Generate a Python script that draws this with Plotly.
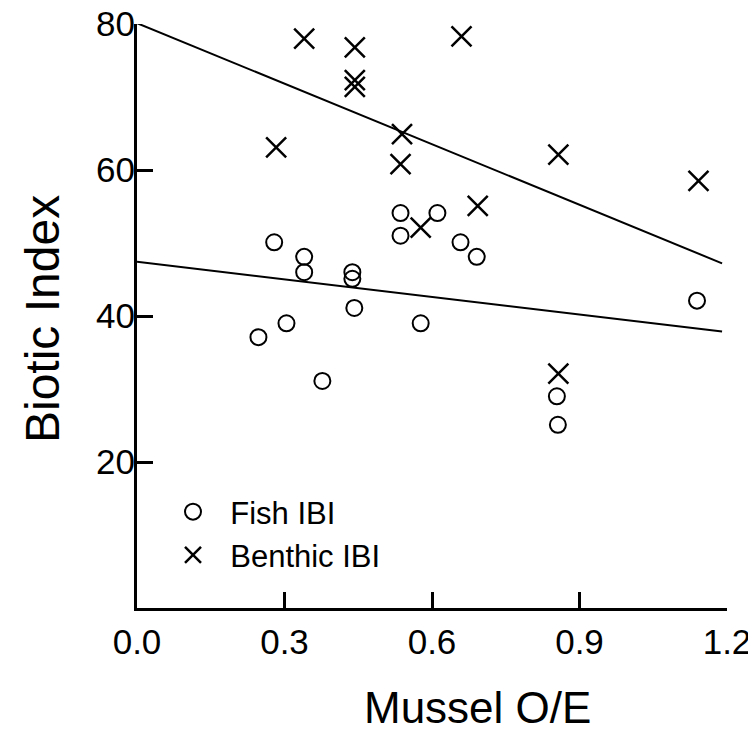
import numpy as np
import plotly.graph_objects as go

# Fish IBI (open circles)
fish_x = [0.247, 0.279, 0.304, 0.340, 0.340, 0.377, 0.438, 0.438, 0.442,
          0.536, 0.536, 0.577, 0.611, 0.658, 0.691, 0.854, 0.856, 1.139]
fish_y = [37.1, 50.1, 39.0, 48.1, 46.0, 31.1, 46.0, 45.1, 41.1,
          54.1, 51.0, 39.0, 54.1, 50.1, 48.1, 29.0, 25.1, 42.1]

# Benthic IBI (crosses)
benthic_x = [0.283, 0.340, 0.443, 0.443, 0.443, 0.536, 0.539, 0.577,
             0.660, 0.693, 0.857, 0.857, 1.142]
benthic_y = [63.1, 78.0, 76.8, 72.3, 71.4, 60.8, 64.9, 52.1,
             78.3, 55.1, 62.1, 32.1, 58.5]

fit_x = [0.0, 1.19]
x_ticks = [0.0, 0.3, 0.6, 0.9, 1.2]
y_ticks = [20, 40, 60, 80]

FONT = "Liberation Sans, Arial, sans-serif"

# page has an 8px body margin, so the figure is a bit smaller than the window
W, H = 748, 730
L, R, T, B = 129, 29, 16, 130
PW, PH = W - L - R, H - T - B


def fit_line(xs, ys):
    slope, icpt = np.polyfit(xs, ys, 1)
    return [icpt + slope * v for v in fit_x]


fig = go.Figure()
fig.add_trace(go.Scatter(x=fit_x, y=fit_line(benthic_x, benthic_y), mode="lines",
                         line=dict(color="black", width=2), showlegend=False, hoverinfo="skip"))
fig.add_trace(go.Scatter(x=fit_x, y=fit_line(fish_x, fish_y), mode="lines",
                         line=dict(color="black", width=2), showlegend=False, hoverinfo="skip"))
fig.add_trace(go.Scatter(x=fish_x, y=fish_y, mode="markers", name="  Fish IBI",
                         marker=dict(symbol="circle-open", size=16, color="black", line=dict(width=2))))
fig.add_trace(go.Scatter(x=benthic_x, y=benthic_y, mode="markers", name="  Benthic IBI",
                         marker=dict(symbol="x-thin-open", size=20, color="black", line=dict(width=2.5))))

fig.update_layout(
    width=W, height=H,
    margin=dict(l=L, r=R, t=T, b=B),
    plot_bgcolor="white", paper_bgcolor="white",
    font=dict(family=FONT, color="black", size=35),
    legend=dict(x=(165 - L) / PW, y=(H - B - 477) / PH, xanchor="left", yanchor="top",
                font=dict(size=31), bgcolor="rgba(0,0,0,0)", tracegroupgap=0),
    annotations=[
        dict(text="Mussel O/E", x=(469 - L) / PW, y=(H - B - 699) / PH, xref="paper", yref="paper",
             showarrow=False, font=dict(size=44), xanchor="center", yanchor="middle"),
        dict(text="Biotic Index", x=(34 - L) / PW, y=(H - B - 311) / PH, xref="paper", yref="paper",
             showarrow=False, font=dict(size=48), textangle=-90, xanchor="center", yanchor="middle"),
    ],
)

fig.update_xaxes(range=[0, 1.2], tickvals=x_ticks, tickformat=".1f", showgrid=False, zeroline=False,
                 showline=True, linecolor="black", linewidth=3, ticks="inside", ticklen=16,
                 tickwidth=2.5, tickcolor="black", ticklabelstandoff=1, ticklabeloverflow="allow",
                 automargin=False)
fig.update_yaxes(range=[0, 80], tickvals=y_ticks, showgrid=False, zeroline=False,
                 showline=True, linecolor="black", linewidth=3, ticks="inside", ticklen=16,
                 tickwidth=2.5, tickcolor="black", ticklabelstandoff=-8, ticklabeloverflow="allow",
                 automargin=False)

fig.write_html("out.html")
